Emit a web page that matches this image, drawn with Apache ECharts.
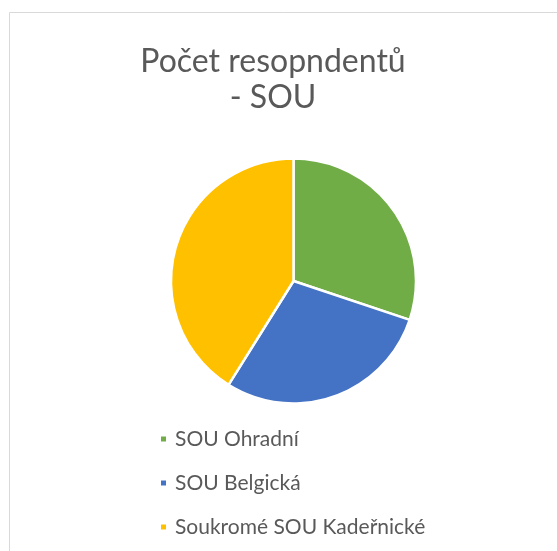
<!DOCTYPE html>
<html>
<head>
<meta charset="utf-8">
<script src="https://cdn.jsdelivr.net/npm/echarts@6/dist/echarts.min.js"></script>
<style>
html,body{margin:0;padding:0;background:#fff;}
#chart{width:557px;height:551px;}
</style>
</head>
<body>
<div id="chart"></div>
<script>
const categories = ["SOU Ohradní", "SOU Belgická", "Soukromé SOU Kadeřnické"];
const values = [22, 21, 30];
const colors = ["#70AD47", "#4472C4", "#FFC000"];
const titleText = "Počet resopndentů\n- SOU";

const chart = echarts.init(document.getElementById('chart'), null, {renderer: 'canvas'});
const FONT = 'Lato';
chart.setOption({
  animation: false,
  backgroundColor: '#fff',
  graphic: [{
    type: 'rect',
    shape: {x: 9.5, y: 12.5, width: 700, height: 700},
    style: {fill: 'none', stroke: '#D9D9D9', lineWidth: 1},
    silent: true
  }],
  title: {
    text: titleText,
    left: 268,
    textAlign: 'center',
    top: 39,
    textStyle: {fontFamily: FONT, fontSize: 32, fontWeight: 'normal', color: '#595959', lineHeight: 36}
  },
  legend: {
    orient: 'vertical',
    left: 154,
    top: 423,
    itemWidth: 7,
    itemHeight: 7,
    itemGap: 22,
    icon: 'rect',
    textStyle: {fontFamily: FONT, fontSize: 21, color: '#595959', lineHeight: 22, padding: [0, 0, 0, 3]},
    data: categories
  },
  series: [{
    type: 'pie',
    center: [293.5, 281],
    radius: [0, 122.5],
    startAngle: 90,
    clockwise: true,
    label: {show: false},
    labelLine: {show: false},
    itemStyle: {borderColor: '#fff', borderWidth: 2.5},
    data: categories.map((c, i) => ({name: c, value: values[i], itemStyle: {color: colors[i]}}))
  }]
});
</script>
</body>
</html>
